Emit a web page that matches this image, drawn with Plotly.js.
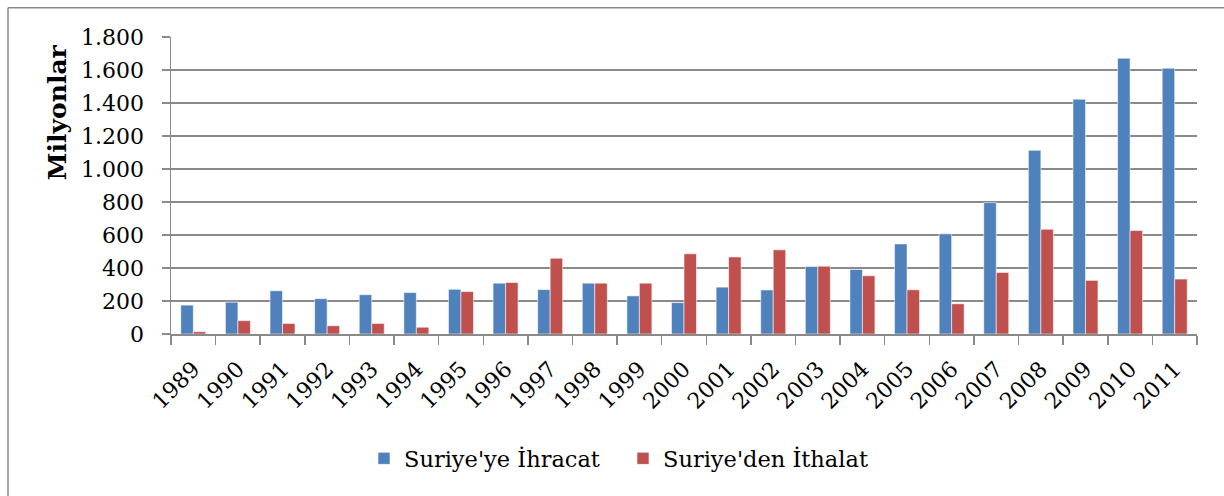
<!DOCTYPE html>
<html>
<head>
<meta charset="utf-8">
<script src="https://cdn.plot.ly/plotly-3.0.1.min.js"></script>
<style>
html,body{margin:0;padding:0;background:#fff;}
#chart{width:1224px;height:496px;}
</style>
</head>
<body>
<div id="chart"></div>
<script>
const years = ["1989","1990","1991","1992","1993","1994","1995","1996","1997","1998","1999","2000","2001","2002","2003","2004","2005","2006","2007","2008","2009","2010","2011"];
const exportsToSyria = [175,193,262,214,238,251,271,308,269,308,231,190,284,267,409,391,546,607,796,1113,1423,1671,1611];
const importsFromSyria = [14,81,64,50,64,41,257,312,459,308,308,486,467,510,411,353,268,183,373,635,325,627,333];
const seriesNames = ["Suriye'ye İhracat", "Suriye'den İthalat"];
const yTicks = [0,200,400,600,800,1000,1200,1400,1600,1800];

const FONT = "DejaVu Serif, Georgia, serif";
const GRID = "#8a8a8a";

const traces = [
  {type:"bar", name:seriesNames[0], x:years, y:exportsToSyria,
   marker:{color:"#4F81BD", line:{color:"rgba(255,255,255,0.55)", width:1}}},
  {type:"bar", name:seriesNames[1], x:years, y:importsFromSyria,
   marker:{color:"#C0504D", line:{color:"rgba(255,255,255,0.55)", width:1}}}
];

const layout = {
  width:1224, height:496,
  margin:{l:171, r:27, t:37, b:162},
  paper_bgcolor:"#fff", plot_bgcolor:"#fff",
  font:{family:FONT, color:"#000", size:22},
  separators:",.",
  barmode:"group", bargap:0.44, bargroupgap:0,
  showlegend:true,
  legend:{orientation:"h", x:(364-171)/1026, xanchor:"left", y:-0.42, yanchor:"middle",
          font:{family:FONT, size:22.5, color:"#000"}, traceorder:"normal",
          itemwidth:30, entrywidthmode:"pixels", entrywidth:214},
  xaxis:{type:"category", tickangle:-45, tickson:"boundaries",
         ticks:"outside", ticklen:9, tickwidth:1.5, tickcolor:GRID,
         showline:true, linecolor:GRID, linewidth:1.5, showgrid:false,
         ticklabelstandoff:12,
         tickfont:{family:FONT, size:22, color:"#000"}, fixedrange:true},
  yaxis:{range:[0,1800], tickvals:yTicks, separatethousands:true, tickformat:",d",
         ticks:"outside", ticklen:8, tickwidth:1.5, tickcolor:GRID,
         showline:true, linecolor:GRID, linewidth:1.5,
         showgrid:true, gridcolor:GRID, gridwidth:1.5, zeroline:false,
         ticklabelstandoff:13,
         tickfont:{family:FONT, size:22, color:"#000"}, fixedrange:true},
  annotations:[{text:"<b>Milyonlar</b>", xref:"paper", yref:"paper",
                x:(57-171)/1026, y:(334.3-112)/297.6, xanchor:"center", yanchor:"middle",
                textangle:-90, showarrow:false, font:{family:FONT, size:25, color:"#000"}}],
  shapes:[
    {type:"line", xref:"paper", yref:"paper", x0:(8-171)/1026, x1:(1230-171)/1026,
     y0:(334.3-7.5)/297.6, y1:(334.3-7.5)/297.6, line:{color:"#8a8a8a", width:1.5}},
    {type:"line", xref:"paper", yref:"paper", x0:(8-171)/1026, x1:(8-171)/1026,
     y0:(334.3-7.5)/297.6, y1:(334.3-500)/297.6, line:{color:"#8a8a8a", width:1.5}}
  ]
};

Plotly.newPlot("chart", traces, layout, {displayModeBar:false, staticPlot:true});
</script>
</body>
</html>
